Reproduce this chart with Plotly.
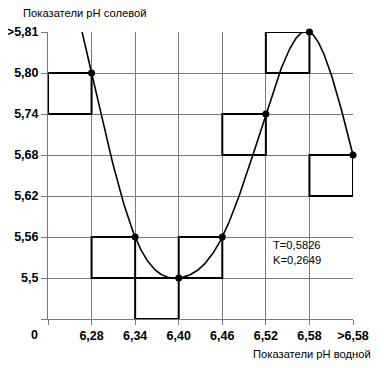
import numpy as np
import plotly.graph_objects as go

# Category tick labels (index 1..7 along each axis; index 0 is the origin "0")
x_labels = ["6,28", "6,34", "6,40", "6,46", "6,52", "6,58", ">6,58"]
y_labels = ["5,5", "5,56", "5,62", "5,68", "5,74", "5,80", ">5,81"]

# Observed points: pH water (x category) vs pH salt (y category)
pts_x = ["6,28", "6,34", "6,40", "6,46", "6,52", "6,58", ">6,58"]
pts_y = ["5,80", "5,56", "5,5", "5,56", "5,74", ">5,81", "5,68"]

stats_text = "T=0,5826<br>K=0,2649"
title_y = "Показатели pH солевой"
title_x = "Показатели pH водной"
origin_label = "0"

# map categories to index positions
xi = np.array([x_labels.index(v) + 1 for v in pts_x], dtype=float)
yi = np.array([y_labels.index(v) + 1 for v in pts_y], dtype=float)


def natural_spline(x, y, xs):
    n = len(x)
    h = np.diff(x)
    A = np.zeros((n, n))
    r = np.zeros(n)
    A[0, 0] = 1
    A[-1, -1] = 1
    for i in range(1, n - 1):
        A[i, i - 1] = h[i - 1]
        A[i, i] = 2 * (h[i - 1] + h[i])
        A[i, i + 1] = h[i]
        r[i] = 6 * ((y[i + 1] - y[i]) / h[i] - (y[i] - y[i - 1]) / h[i - 1])
    M = np.linalg.solve(A, r)
    out = []
    for t in xs:
        k = int(np.clip(np.searchsorted(x, t) - 1, 0, n - 2))
        a, b = x[k], x[k + 1]
        hk = b - a
        val = (M[k] * (b - t) ** 3 / (6 * hk) + M[k + 1] * (t - a) ** 3 / (6 * hk)
               + (y[k] / hk - M[k] * hk / 6) * (b - t)
               + (y[k + 1] / hk - M[k + 1] * hk / 6) * (t - a))
        out.append(val)
    return np.array(out)


xs = np.linspace(xi[0] - 0.4, xi[-1], 400)
ys = natural_spline(xi, yi, xs)

fig = go.Figure()
fig.add_trace(go.Scatter(x=xs, y=ys, mode="lines",
                         line=dict(color="black", width=1.6),
                         hoverinfo="skip", showlegend=False))
fig.add_trace(go.Scatter(x=xi, y=yi, mode="markers",
                         marker=dict(color="black", size=7),
                         cliponaxis=False, showlegend=False))

# squares: the cell to the lower-left of each point
for px, py in zip(xi, yi):
    fig.add_shape(type="rect", xref="x", yref="y",
                  x0=px - 1, x1=px, y0=py - 1, y1=py,
                  line=dict(color="black", width=2), layer="above")

grid_col = "#7a7a7a"
tick_font = dict(family="Arial, Liberation Sans, sans-serif", size=12.5,
                 color="black", weight="bold")

fig.update_xaxes(range=[0, 7], tickmode="array",
                 tickvals=list(range(0, 8)), ticktext=[""] + x_labels,
                 showgrid=True, gridcolor=grid_col, gridwidth=1,
                 ticks="outside", ticklen=5, tickcolor=grid_col,
                 showline=True, linecolor=grid_col, linewidth=1,
                 zeroline=False, tickfont=tick_font, fixedrange=True,
                 automargin=False)
fig.update_yaxes(range=[0, 7], tickmode="array",
                 tickvals=list(range(0, 8)), ticktext=[""] + y_labels,
                 showgrid=True, gridcolor=grid_col, gridwidth=1,
                 ticks="outside", ticklen=6, tickcolor=grid_col,
                 showline=True, linecolor=grid_col, linewidth=1,
                 zeroline=False, tickfont=tick_font, fixedrange=True,
                 automargin=False)

ann_font = dict(family="Arial, Liberation Sans, sans-serif", size=11.2, color="black")
fig.add_annotation(xref="paper", yref="paper", x=-0.09, y=1.066,
                   xanchor="left", yanchor="middle", text=title_y,
                   showarrow=False, font=ann_font)
fig.add_annotation(xref="paper", yref="paper", x=1.065, y=-0.122,
                   xanchor="right", yanchor="middle", text=title_x,
                   showarrow=False, font=ann_font)
fig.add_annotation(xref="x", yref="y", x=5.12, y=1.63,
                   xanchor="left", yanchor="middle", text=stats_text,
                   align="left", showarrow=False, font=ann_font)
fig.add_annotation(xref="x", yref="y", x=0, y=0, xanchor="right", yanchor="top",
                   xshift=-8, yshift=-7, text=origin_label, showarrow=False,
                   font=tick_font)

# the page body has an 8px default margin, so the figure is offset by 8px
fig.update_layout(width=376, height=360,
                  margin=dict(l=40, r=31, t=24, b=49),
                  paper_bgcolor="white", plot_bgcolor="white")

fig.write_html("out.html")
